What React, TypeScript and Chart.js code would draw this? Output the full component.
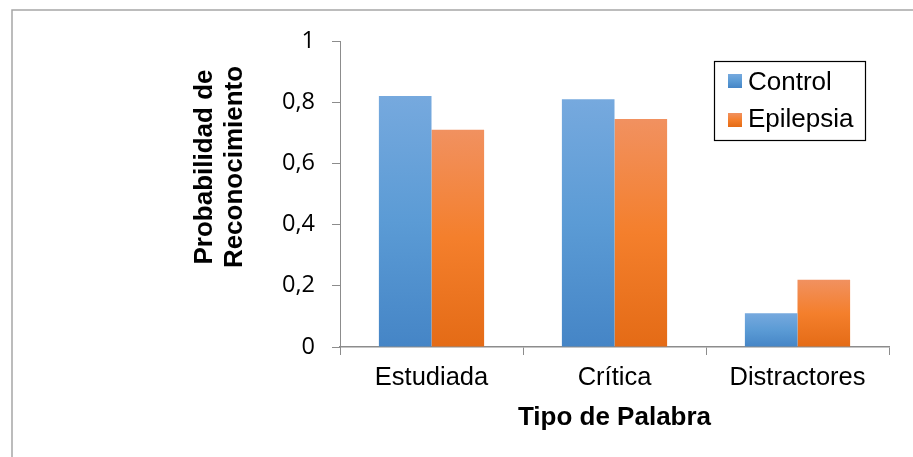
import React, { useEffect, useRef } from 'react';
import { Chart, registerables } from 'chart.js';

Chart.register(...registerables);

const categories = ['Estudiada', 'Crítica', 'Distractores'];
const seriesNames = ['Control', 'Epilepsia'];
const controlValues = [0.82, 0.81, 0.11];
const epilepsiaValues = [0.71, 0.745, 0.22];
const yTicks = [0, 0.2, 0.4, 0.6, 0.8, 1];
const yTitleLines = ['Probabilidad de', 'Reconocimiento'];
const xTitle = 'Tipo de Palabra';

const blueStops = ['#76a9de', '#5b9bd5', '#4585c6'];
const orangeStops = ['#f19160', '#f47f2c', '#e46b16'];

function makeGradient(ctx: CanvasRenderingContext2D, top: number, bottom: number, stops: string[]) {
  const g = ctx.createLinearGradient(0, top, 0, bottom);
  g.addColorStop(0, stops[0]);
  g.addColorStop(0.5, stops[1]);
  g.addColorStop(1, stops[2]);
  return g;
}

function barFill(stops: string[]) {
  return (c: any) => {
    const chart = c.chart;
    const { ctx, chartArea, scales } = chart;
    if (!chartArea || c.type !== 'data' || !scales.y) return stops[1];
    const top = scales.y.getPixelForValue(c.raw);
    const base = scales.y.getPixelForValue(0);
    return makeGradient(ctx, top, base, stops);
  };
}

const decorPlugin = {
  id: 'decor',
  beforeDraw(chart: any) {
    const ctx = chart.ctx as CanvasRenderingContext2D;
    ctx.save();
    ctx.fillStyle = '#ffffff';
    ctx.fillRect(0, 0, chart.width, chart.height);
    ctx.strokeStyle = '#a6a6a6';
    ctx.lineWidth = 1.5;
    ctx.strokeRect(12, 10, chart.width + 20, chart.height + 20);
    ctx.restore();
  },
  afterDraw(chart: any) {
    const ctx = chart.ctx as CanvasRenderingContext2D;
    // Y axis title (two lines, rotated)
    ctx.save();
    ctx.fillStyle = '#000000';
    ctx.font = 'bold 26px "Liberation Sans", Arial, sans-serif';
    ctx.textAlign = 'center';
    ctx.textBaseline = 'alphabetic';
    const baselines = [212, 242];
    yTitleLines.forEach((line, i) => {
      ctx.save();
      ctx.translate(baselines[i], 167);
      ctx.rotate(-Math.PI / 2);
      ctx.fillText(line, 0, 0);
      ctx.restore();
    });
    ctx.restore();

    // Legend
    ctx.save();
    ctx.strokeStyle = '#000000';
    ctx.lineWidth = 1.2;
    ctx.strokeRect(714.5, 61.5, 151, 79);
    const stopsList = [blueStops, orangeStops];
    const squareTops = [74, 113];
    const textBaselines = [90, 127];
    ctx.font = '26px "Liberation Sans", Arial, sans-serif';
    ctx.textAlign = 'left';
    ctx.textBaseline = 'alphabetic';
    chart.data.datasets.forEach((ds: any, i: number) => {
      ctx.fillStyle = makeGradient(ctx, squareTops[i], squareTops[i] + 14, stopsList[i]);
      ctx.fillRect(728, squareTops[i], 14, 14);
      ctx.fillStyle = '#000000';
      ctx.fillText(ds.label, 748, textBaselines[i]);
    });
    ctx.restore();
  },
};

function formatTick(v: number) {
  if (v === 0 || v === 1) return String(v);
  return v.toFixed(1).replace('.', ',');
}

export default function App() {
  const canvasRef = useRef<HTMLCanvasElement | null>(null);

  useEffect(() => {
    document.body.style.margin = '0';
    const canvas = canvasRef.current;
    if (!canvas) return;
    const chart = new Chart(canvas, {
      type: 'bar',
      data: {
        labels: categories,
        datasets: [
          {
            label: seriesNames[0],
            data: controlValues,
            backgroundColor: barFill(blueStops),
            borderWidth: 0,
            barPercentage: 1,
            categoryPercentage: 0.575,
          },
          {
            label: seriesNames[1],
            data: epilepsiaValues,
            backgroundColor: barFill(orangeStops),
            borderWidth: 0,
            barPercentage: 1,
            categoryPercentage: 0.575,
          },
        ],
      },
      options: {
        responsive: false,
        animation: false,
        devicePixelRatio: 1,
        layout: { padding: { left: 0, top: 41, right: 24, bottom: 0 } },
        plugins: {
          legend: { display: false },
          tooltip: { enabled: false },
        },
        scales: {
          x: {
            afterFit: (scale: any) => {
              scale.height = 110;
            },
            grid: {
              offset: true,
              drawOnChartArea: false,
              drawTicks: true,
              tickLength: 8,
              color: '#8c8c8c',
            },
            border: { color: '#8c8c8c', width: 1.5 },
            ticks: {
              color: '#000000',
              padding: 8,
              font: { family: '"Liberation Sans", Arial, sans-serif', size: 25.5 },
            },
            title: {
              display: true,
              text: xTitle,
              color: '#000000',
              font: { family: '"Liberation Sans", Arial, sans-serif', size: 26, weight: 'bold' },
              padding: { top: 0, bottom: 24 },
            },
          },
          y: {
            min: 0,
            max: 1,
            afterFit: (scale: any) => {
              scale.width = 340;
            },
            afterBuildTicks: (scale: any) => {
              scale.ticks = yTicks.map((v) => ({ value: v }));
            },
            grid: {
              drawOnChartArea: false,
              drawTicks: true,
              tickLength: 8,
              color: '#8c8c8c',
            },
            border: { color: '#8c8c8c', width: 1 },
            ticks: {
              color: '#000000',
              padding: 17,
              font: { family: '"Open Sans", sans-serif', size: 23.5 },
              callback: (v: any) => formatTick(Number(v)),
            },
          },
        },
      },
      plugins: [decorPlugin],
    } as any);
    return () => chart.destroy();
  }, []);

  return (
    <div style={{ width: 913, height: 457 }}>
      <canvas ref={canvasRef} width={913} height={457} style={{ display: 'block' }} />
    </div>
  );
}
